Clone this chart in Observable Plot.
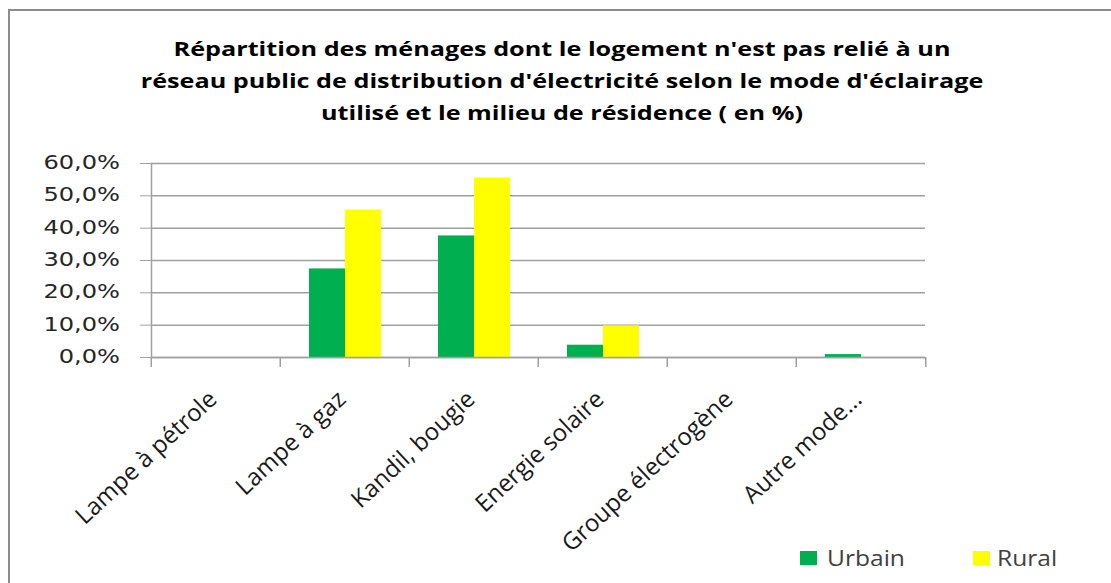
<!DOCTYPE html>
<html><head><meta charset="utf-8">
<script src="https://cdn.jsdelivr.net/npm/d3@7"></script>
<script src="https://cdn.jsdelivr.net/npm/@observablehq/plot@0.6"></script>
<style>
body{margin:0;background:#fff;}
#wrap{position:relative;width:1111px;height:583px;overflow:hidden;background:#fff;}
#border{position:absolute;left:8px;top:9px;width:1300px;height:800px;border:2px solid #8c8c8c;box-sizing:border-box;}
#title{position:absolute;left:0;top:33px;width:1124px;text-align:center;font-family:"Open Sans";font-weight:bold;font-size:20px;line-height:32px;color:#000;transform:scaleX(1.26);transform-origin:562px 0;}
#chart{position:absolute;left:0;top:140px;}
#chart g[aria-label="y-axis tick label"]{transform-box:fill-box;transform-origin:right center;transform:translate(-31px,0) scaleX(1.27);}
.lg{position:absolute;font-family:"Open Sans";font-size:21px;line-height:22px;color:#404040;transform:scaleX(1.17);transform-origin:0 0;}
.sw{position:absolute;width:17px;height:14px;}
</style></head>
<body><div id="wrap">
<div id="border"></div>
<div id="title">Répartition des ménages dont le logement n'est pas relié à un<br>réseau public de distribution  d'électricité selon le mode d'éclairage<br>utilisé et le milieu de résidence ( en %)</div>
<div id="chart"></div>
<div class="sw" style="left:800px;top:551px;background:#00b050"></div>
<div class="lg" style="left:827px;top:547px">Urbain</div>
<div class="sw" style="left:973px;top:551px;background:#ffff00"></div>
<div class="lg" style="left:997px;top:547px">Rural</div>
</div>
<script>
const categories = ["Lampe à pétrole", "Lampe à gaz", "Kandil, bougie", "Energie solaire", "Groupe électrogène", "Autre mode..."];
const series = ["Urbain", "Rural"];
const urbain = [0, 27.4, 37.6, 3.8, 0, 0.9];
const rural = [0, 45.6, 55.5, 9.8, 0, 0];
const yTicks = [0, 10, 20, 30, 40, 50, 60];
const colors = ["#00b050", "#ffff00"];

const rows = [];
categories.forEach((c, i) => {
  rows.push({cat: c, series: "Urbain", value: urbain[i]});
  rows.push({cat: c, series: "Rural", value: rural[i]});
});

const W = 1111, H = 443, ML = 149, MR = 185, MT = 23, MB = 226;
const halfBand = (W - ML - MR) / categories.length / 2;
const gray = "#a0a0a0";

const chart = Plot.plot({
  width: W, height: H,
  marginLeft: ML, marginRight: MR, marginTop: MT, marginBottom: MB,
  style: {background: "transparent"},
  fx: {domain: categories, paddingInner: 0, paddingOuter: 0},
  x: {domain: series, paddingInner: 0, paddingOuter: 0.75, axis: null},
  y: {domain: [0, 60]},
  color: {domain: series, range: colors},
  marks: [
    Plot.gridY({ticks: yTicks, stroke: gray, strokeOpacity: 1, strokeWidth: 1.5}),
    Plot.axisY({ticks: yTicks, tickSize: 11, tickPadding: 20, stroke: gray, strokeOpacity: 1,
      tickFormat: d => d.toFixed(1).replace(".", ",") + "%", label: null,
      fontSize: 19, fontFamily: "DejaVu Sans", fill: "#262626"}),
    Plot.barY(rows, {fx: "cat", x: "series", y: "value", fill: "series"}),
    Plot.ruleY([0], {stroke: gray, strokeWidth: 1.5}),
    Plot.frame({anchor: "left", facetAnchor: "left", stroke: gray, strokeWidth: 1.5}),
    Plot.axisFx({anchor: "bottom", text: null, tickSize: 10, dx: -halfBand, stroke: gray, strokeWidth: 1.5, label: null}),
    Plot.axisFx({anchor: "bottom", ticks: [categories[categories.length - 1]], text: null, tickSize: 10, dx: halfBand, stroke: gray, strokeWidth: 1.5, label: null}),
    Plot.axisFx({anchor: "bottom", tickSize: 0, tickPadding: 38, tickRotate: -43, dx: -3,
      fontSize: 24, fontFamily: "Open Sans", fill: "#1a1a1a", label: null})
  ]
});
document.getElementById("chart").appendChild(chart);
</script>
</body></html>
